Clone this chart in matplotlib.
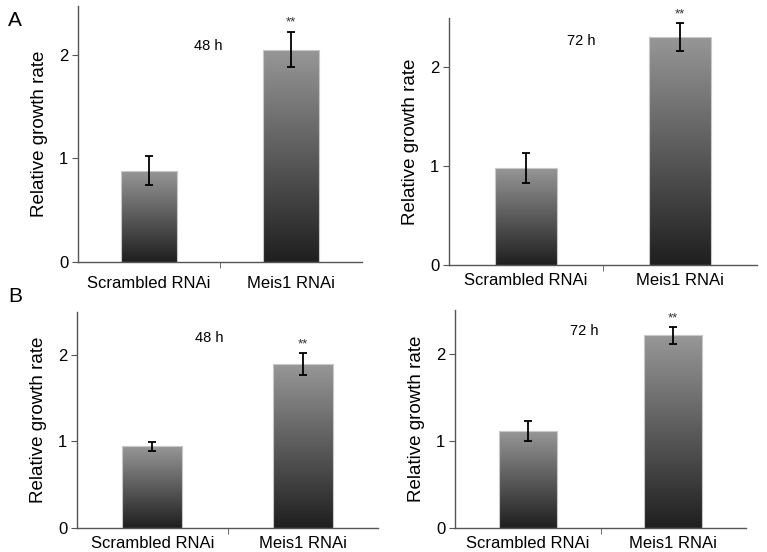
import numpy as np
import matplotlib
matplotlib.use("Agg")
import matplotlib.pyplot as plt
from matplotlib.colors import LinearSegmentedColormap

plt.rcParams['font.family'] = ['Liberation Sans', 'DejaVu Sans']

categories = ["Scrambled RNAi", "Meis1 RNAi"]

# Panel A
a48_vals = [0.88, 2.05]
a48_err = [0.14, 0.17]
a72_vals = [0.98, 2.30]
a72_err = [0.15, 0.14]
# Panel B
b48_vals = [0.94, 1.89]
b48_err = [0.05, 0.125]
b72_vals = [1.11, 2.21]
b72_err = [0.115, 0.10]

time_labels = ["48 h", "72 h", "48 h", "72 h"]
sig_labels = ["**", "**"]
yticks = [0, 1, 2]

W, H = 767, 552
fig = plt.figure(figsize=(W / 100, H / 100), dpi=100)

def px_axes(x0, y0, x1, y1):
    return fig.add_axes([x0 / W, 1 - y1 / H, (x1 - x0) / W, (y1 - y0) / H])

cmap = LinearSegmentedColormap.from_list("g", ["#1f1f1f", "#979797"])
grad = np.linspace(0, 1, 256).reshape(-1, 1)

panels = [
    (px_axes(78, 6, 362, 262), a48_vals, a48_err, 2.47, time_labels[0], (0.46, 0.845), 10),
    (px_axes(449, 18, 757, 265), a72_vals, a72_err, 2.49, time_labels[1], (0.43, 0.905), 6),
    (px_axes(77, 312, 378, 528), b48_vals, b48_err, 2.49, time_labels[2], (0.44, 0.88), 6),
    (px_axes(455, 310, 746, 528), b72_vals, b72_err, 2.50, time_labels[3], (0.445, 0.905), 6),
]

x = np.arange(len(categories))
for ax, vals, errs, ymax, tlabel, tpos, xpad in panels:
    bars = ax.bar(x, vals, width=0.4, color='none', edgecolor='#c8c8c8',
                  linewidth=0.8, zorder=2.5)
    for b in bars:
        bx, by, bw, bh = b.get_x(), b.get_y(), b.get_width(), b.get_height()
        im = ax.imshow(grad, extent=[bx, bx + bw, by, by + bh], origin='lower',
                       cmap=cmap, aspect='auto', zorder=2)
        im.set_clip_path(b)
    ax.errorbar(x, vals, yerr=errs, fmt='none', ecolor='black', elinewidth=1.3,
                capsize=3, capthick=1.3, zorder=3)
    for xi, v, e in zip(x[1:], vals[1:], errs[1:]):
        ax.text(xi, v + e + 0.03, sig_labels[0], ha='center', va='bottom',
                fontsize=9.5, color='#333333')
    ax.text(tpos[0], tpos[1], tlabel, transform=ax.transAxes, ha='center',
            va='center', fontsize=10.5)
    ax.set_xlim(-0.5, 1.5)
    ax.set_ylim(0, ymax)
    ax.set_yticks(yticks)
    ax.set_xticks(x)
    ax.set_xticklabels(categories, fontsize=12)
    ax.tick_params(axis='x', length=0, pad=xpad)
    ax.set_xticks([0.5], minor=True)
    ax.tick_params(axis='x', which='minor', length=4, color='#555555', direction='out')
    ax.tick_params(axis='y', labelsize=12, length=4, color='#555555', pad=3)
    for s in ['top', 'right']:
        ax.spines[s].set_visible(False)
    for s in ['left', 'bottom']:
        ax.spines[s].set_color('#555555')
        ax.spines[s].set_linewidth(1.0)
    ax.set_ylabel("Relative growth rate", fontsize=13.5, labelpad=8)

fig.text(8 / W, 1 - 20 / H, "A", fontsize=15, ha='left', va='center')
fig.text(8 / W, 1 - 296 / H, "B", fontsize=15, ha='left', va='center')

fig.savefig("out.png", dpi=100)
